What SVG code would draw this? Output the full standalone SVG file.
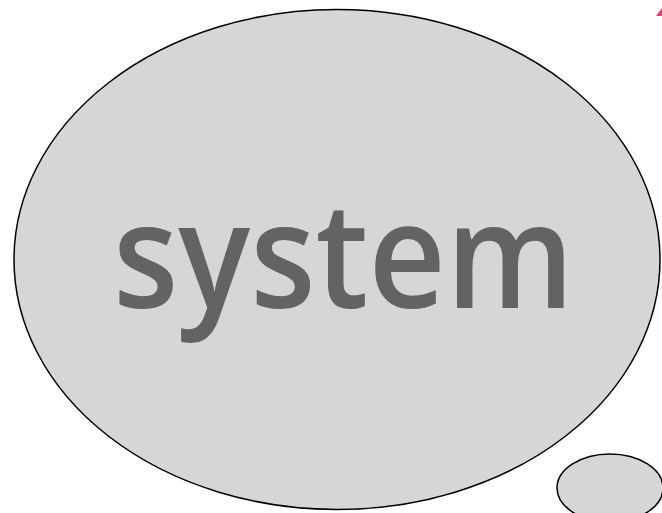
<svg xmlns="http://www.w3.org/2000/svg" width="662" height="513" viewBox="0 0 662 513">
<style>
.bubble{fill:#d6d6d6;stroke:#000;stroke-width:1.5}
.label{font-family:"Open Sans","Liberation Sans",sans-serif;font-weight:600;fill:#636363}
</style>
<rect width="662" height="513" fill="#fff"/>
<g id="system">
<ellipse class="bubble" cx="337" cy="259.5" rx="323" ry="250"/>
<text class="label" x="113" y="308" font-size="146" textLength="461" lengthAdjust="spacingAndGlyphs">system</text>
</g>
<g id="small-bubble">
<ellipse class="bubble" cx="610" cy="488" rx="53" ry="34"/>
</g>
<g id="fragment">
<path d="M656 16 L662 8 L662 16 Z" fill="#e0407a"/>
</g>
<g id="connectors"></g>
</svg>
